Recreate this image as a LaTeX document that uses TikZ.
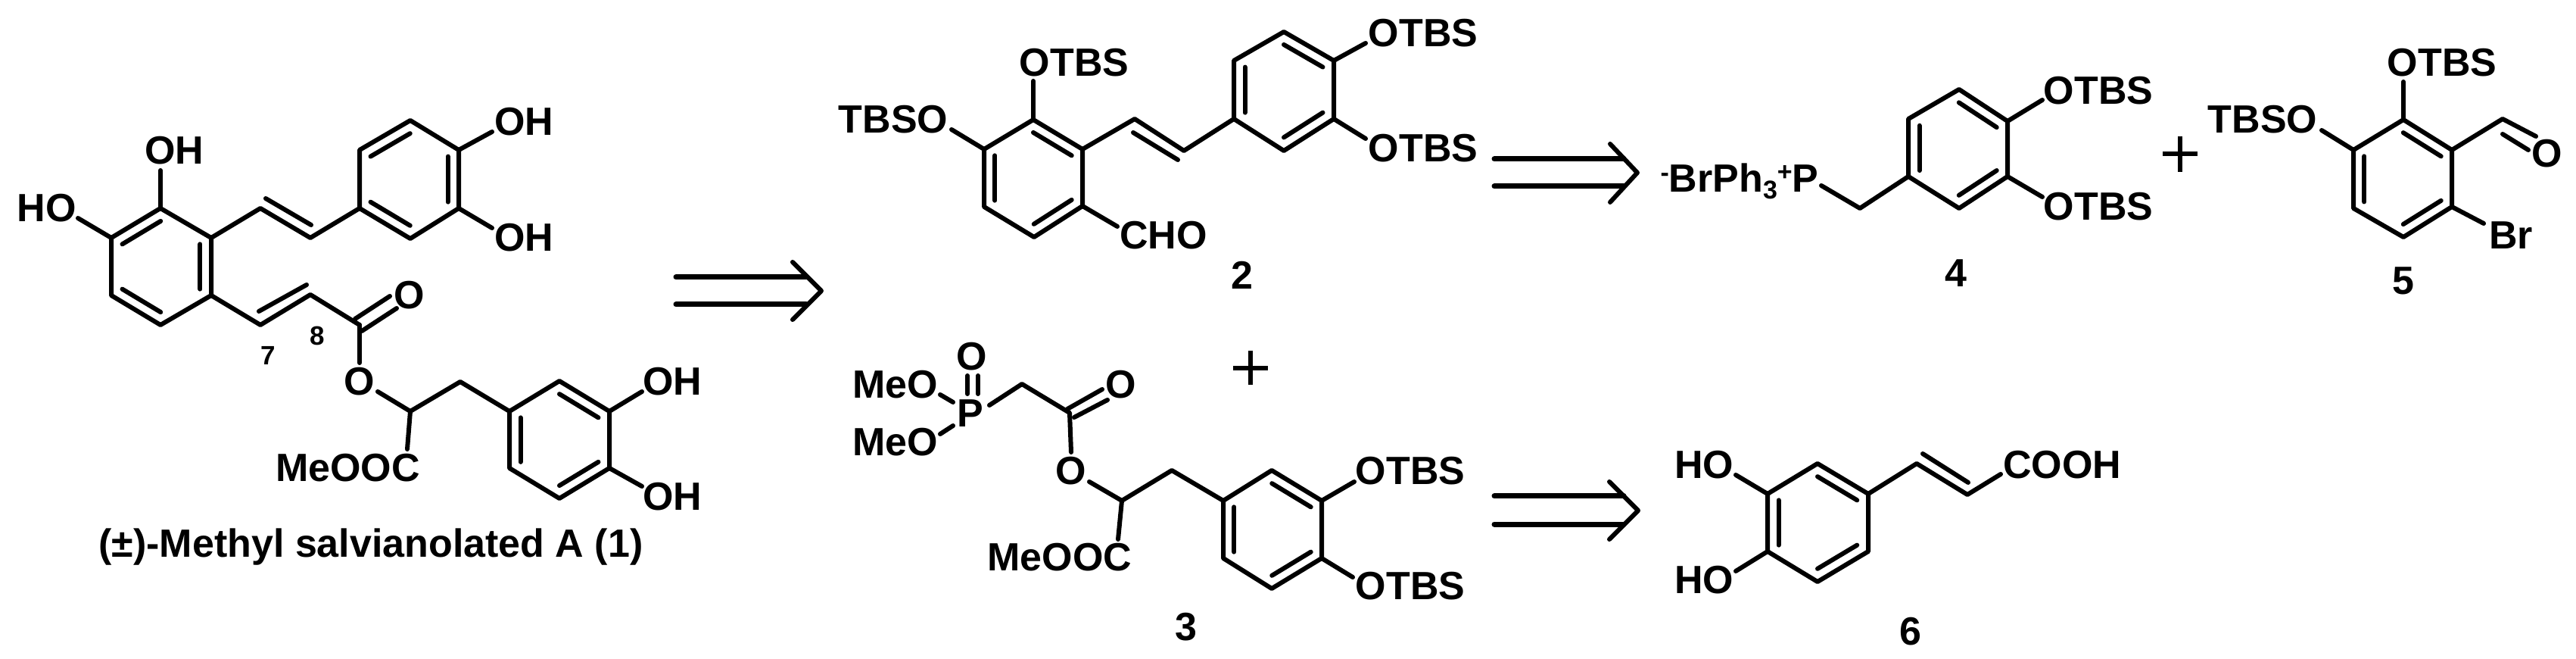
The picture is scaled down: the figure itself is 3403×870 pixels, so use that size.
\documentclass[tikz,border=0pt]{standalone}
\usepackage{fontspec}
\setmainfont{Liberation Sans}[BoldFont={Liberation Sans Bold}]
\usetikzlibrary{calc}
\newcommand\atom[3]{\coordinate (#1) at (#2,#3);}
\newcommand\bnd[1]{\draw[bond] #1;}
\newcommand\rd[3]{\draw[bond] ($(#1)!0.22!(#3)$) -- ($(#2)!0.22!(#3)$);}
\tikzset{
 bond/.style={line width=3pt,line cap=round,line join=round,black},
 thinbond/.style={line width=2.6pt,line cap=butt,black},
 arrowline/.style={line width=3.5pt,line cap=round,black},
 chem/.style={font=\fontsize{26}{26}\selectfont\bfseries,inner sep=0pt,text height=18.6pt,text depth=0pt,black},
 num/.style={font=\fontsize{17.5}{18}\selectfont\bfseries,inner sep=0pt,text height=12.5pt,text depth=0pt,black},
}
\begin{document}
\begin{tikzpicture}[x=0.5pt,y=-0.5pt]
\useasboundingbox (0,0) rectangle (3403,870);
\fill[white] (0,0) rectangle (3403,870);

% ---------- compound 1 ----------
\atom{A1}{212}{275}\atom{A2}{147}{314}\atom{A3}{147}{390}\atom{A4}{212}{429}\atom{A5}{279}{390}\atom{A6}{279}{314}\atom{Ac}{213}{352}
\bnd{(A1)--(A2)--(A3)--(A4)--(A5)--(A6)--cycle}
\rd{A1}{A2}{Ac}\rd{A3}{A4}{Ac}\rd{A5}{A6}{Ac}
\node[chem] (oh1) at (230,198) {OH};
\node[chem] (ho1) at (62,274) {HO};
\atom{Ao1}{212}{225}\atom{Ao2}{103}{288}
\bnd{(A1)--(Ao1)}\bnd{(A2)--(Ao2)}
\atom{V1}{344}{275}\atom{V2}{410}{314}
\atom{B1}{475}{275}\atom{B2}{475}{198}\atom{B3}{542}{159}\atom{B4}{606}{198}\atom{B5}{606}{275}\atom{B6}{542}{315}\atom{Bc}{541}{237}
\bnd{(B1)--(B2)--(B3)--(B4)--(B5)--(B6)--cycle}
\bnd{(A6)--(V1)--(V2)--(B1)}
\atom{Vi1}{351}{262}\atom{Vi2}{411}{297}
\bnd{(Vi1)--(Vi2)}
\rd{B2}{B3}{Bc}\rd{B4}{B5}{Bc}\rd{B6}{B1}{Bc}
\atom{Bo1}{650}{174}\atom{Bo2}{650}{301}
\bnd{(B4)--(Bo1)}\bnd{(B5)--(Bo2)}
\node[chem] (oh2) at (692,160) {OH};
\node[chem] (oh3) at (692,313) {OH};
\atom{E1}{344}{429}\atom{E2}{410}{389}\atom{E3}{475}{429}
\bnd{(A5)--(E1)--(E2)--(E3)}
\atom{Ei1}{342}{411}\atom{Ei2}{405}{376}
\bnd{(Ei1)--(Ei2)}
\atom{Eo1}{469}{421}\atom{Eo2}{515}{391}\atom{Eo3}{478}{437}\atom{Eo4}{524}{407}
\bnd{(Eo1)--(Eo2)}\bnd{(Eo3)--(Eo4)}
\node[chem] (o1) at (541,389) {O};
\atom{Es}{475}{479}
\bnd{(E3)--(Es)}
\node[chem] (o2) at (475,503) {O};
\atom{F0}{499}{517}\atom{F1}{542}{543}\atom{F2}{608}{504}\atom{F3}{538}{593}
\atom{C1}{673}{543}\atom{C2}{739}{503}\atom{C3}{805}{543}\atom{C4}{805}{618}\atom{C5}{739}{658}\atom{C6}{673}{618}\atom{Cc}{739}{581}
\bnd{(F0)--(F1)--(F2)--(C1)}\bnd{(F1)--(F3)}
\node[chem] (me1) at (459.5,617) {MeOOC};
\bnd{(C1)--(C2)--(C3)--(C4)--(C5)--(C6)--cycle}
\rd{C2}{C3}{Cc}\rd{C4}{C5}{Cc}\rd{C6}{C1}{Cc}
\atom{Co1}{848}{517}\atom{Co2}{848}{642}
\bnd{(C3)--(Co1)}\bnd{(C4)--(Co2)}
\node[chem] (oh4) at (888,503) {OH};
\node[chem] (oh5) at (888,655) {OH};
\node[num] (n8) at (419,443) {8};
\node[num] (n7) at (354,469) {7};
\node[chem] (title) at (490,717) {(±)-Methyl salvianolated A (1)};

% ---------- arrows ----------
\atom{R1a}{893}{366}\atom{R1b}{1065}{366}\atom{R1c}{893}{402}\atom{R1d}{1065}{402}\atom{R1u}{1047}{346}\atom{R1t}{1085}{384}\atom{R1l}{1047}{422}
\draw[arrowline] (R1a)--(R1b);\draw[arrowline] (R1c)--(R1d);\bnd{(R1u)--(R1t)--(R1l)}
\atom{R2a}{1974}{210}\atom{R2b}{2145}{210}\atom{R2c}{1974}{246}\atom{R2d}{2145}{246}\atom{R2u}{2127}{190}\atom{R2t}{2163}{228}\atom{R2l}{2127}{267}
\draw[arrowline] (R2a)--(R2b);\draw[arrowline] (R2c)--(R2d);\bnd{(R2u)--(R2t)--(R2l)}
\atom{R3a}{1974}{655}\atom{R3b}{2145}{655}\atom{R3c}{1974}{692}\atom{R3d}{2145}{692}\atom{R3u}{2126}{636}\atom{R3t}{2164}{674}\atom{R3l}{2126}{712}
\draw[arrowline] (R3a)--(R3b);\draw[arrowline] (R3c)--(R3d);\bnd{(R3u)--(R3t)--(R3l)}

% ---------- compound 2 ----------
\atom{G1}{1365}{158}\atom{G2}{1300}{197}\atom{G3}{1300}{273}\atom{G4}{1366}{313}\atom{G5}{1430}{272}\atom{G6}{1430}{197}\atom{Gc}{1365}{235}
\bnd{(G1)--(G2)--(G3)--(G4)--(G5)--(G6)--cycle}
\rd{G1}{G6}{Gc}\rd{G2}{G3}{Gc}\rd{G4}{G5}{Gc}
\atom{Go1}{1365}{107}\atom{Go2}{1257}{171}\atom{Go3}{1476}{299}
\bnd{(G1)--(Go1)}\bnd{(G2)--(Go2)}\bnd{(G5)--(Go3)}
\node[chem] (t1) at (1419,82) {OTBS};
\node[chem] (t2) at (1180,157) {TBSO};
\node[chem] (cho) at (1537,310) {CHO};
\node[chem] (n2) at (1641,363) {2};
\atom{H1}{1499}{157}\atom{H2}{1564}{199}
\atom{J1}{1630}{157}\atom{J2}{1630}{80}\atom{J3}{1696}{42}\atom{J4}{1762}{80}\atom{J5}{1762}{157}\atom{J6}{1696}{199}\atom{Jc}{1696}{119}
\bnd{(G6)--(H1)--(H2)--(J1)}
\atom{Hi1}{1497}{175}\atom{Hi2}{1556}{211}
\bnd{(Hi1)--(Hi2)}
\bnd{(J1)--(J2)--(J3)--(J4)--(J5)--(J6)--cycle}
\rd{J1}{J2}{Jc}\rd{J3}{J4}{Jc}\rd{J5}{J6}{Jc}
\atom{Jo1}{1804}{57}\atom{Jo2}{1804}{183}
\bnd{(J4)--(Jo1)}\bnd{(J5)--(Jo2)}
\node[chem] (t3) at (1880,43) {OTBS};
\node[chem] (t4) at (1880,195) {OTBS};

% ---------- compound 3 ----------
\node[chem] (p1) at (1282,545) {P};
\node[chem] (mo1) at (1183,507) {MeO};
\node[chem] (mo2) at (1183,583) {MeO};
\node[chem] (o3) at (1284,470) {O};
\atom{Pa}{1278}{496}\atom{Pb}{1278}{520}\atom{Pc}{1292}{496}\atom{Pd}{1292}{520}
\draw[bond] (Pa)--(Pb);\draw[bond] (Pc)--(Pd);
\atom{Pe}{1242}{521}\atom{Pf}{1259}{531}\atom{Pg}{1242}{573}\atom{Ph}{1259}{562}
\bnd{(Pe)--(Pf)}\bnd{(Pg)--(Ph)}
\atom{K0}{1307}{535}\atom{K1}{1350}{507}\atom{K2}{1413}{545}\atom{K3}{1415}{597}
\bnd{(K0)--(K1)--(K2)--(K3)}
\atom{Ko1}{1410}{540}\atom{Ko2}{1456}{514}\atom{Ko3}{1419}{551}\atom{Ko4}{1463}{528}
\bnd{(Ko1)--(Ko2)}\bnd{(Ko3)--(Ko4)}
\node[chem] (o4) at (1481,507) {O};
\node[chem] (o5) at (1415,621) {O};
\atom{L0}{1439}{636}\atom{L1}{1482}{661}\atom{L2}{1548}{621}\atom{L3}{1477}{712}
\atom{M1}{1616}{661}\atom{M2}{1680}{621}\atom{M3}{1746}{661}\atom{M4}{1746}{737}\atom{M5}{1680}{777}\atom{M6}{1616}{737}\atom{Mc}{1681}{699}
\bnd{(L0)--(L1)--(L2)--(M1)}\bnd{(L1)--(L3)}
\node[chem] (me2) at (1400,735) {MeOOC};
\bnd{(M1)--(M2)--(M3)--(M4)--(M5)--(M6)--cycle}
\rd{M2}{M3}{Mc}\rd{M4}{M5}{Mc}\rd{M6}{M1}{Mc}
\atom{Mo1}{1789}{636}\atom{Mo2}{1787}{762}
\bnd{(M3)--(Mo1)}\bnd{(M4)--(Mo2)}
\node[chem] (t5) at (1863,621) {OTBS};
\node[chem] (t6) at (1863,773) {OTBS};
\node[chem] (n3) at (1567,827) {3};
\atom{Qa}{1629}{486}\atom{Qb}{1675}{486}\atom{Qc}{1652}{463}\atom{Qd}{1652}{508}
\draw[thinbond] (Qa)--(Qb);\draw[thinbond] (Qc)--(Qd);

% ---------- compound 4 ----------
\node[chem] (br4) at (2298,235) {\raisebox{7pt}{\fontsize{17}{17}\selectfont -}BrPh\raisebox{-4.5pt}{\fontsize{17}{17}\selectfont 3}\raisebox{7.5pt}{\fontsize{17}{17}\selectfont +}P};
\atom{S0}{2406}{245}\atom{S1}{2457}{275}
\atom{U1}{2521}{233}\atom{U2}{2521}{157}\atom{U3}{2588}{118}\atom{U4}{2652}{160}\atom{U5}{2652}{233}\atom{U6}{2588}{275}\atom{Uc}{2587}{197}
\bnd{(S0)--(S1)--(U1)}
\bnd{(U1)--(U2)--(U3)--(U4)--(U5)--(U6)--cycle}
\rd{U1}{U2}{Uc}\rd{U3}{U4}{Uc}\rd{U5}{U6}{Uc}
\atom{Uo1}{2698}{132}\atom{Uo2}{2698}{260}
\bnd{(U4)--(Uo1)}\bnd{(U5)--(Uo2)}
\node[chem] (t7) at (2772,119) {OTBS};
\node[chem] (t8) at (2772,272) {OTBS};
\node[chem] (n4) at (2584,360) {4};
\atom{Wa}{2857}{203}\atom{Wb}{2903}{203}\atom{Wc}{2880}{180}\atom{Wd}{2880}{227}
\draw[thinbond] (Wa)--(Wb);\draw[thinbond] (Wc)--(Wd);

% ---------- compound 5 ----------
\atom{X1}{3175}{158}\atom{X2}{3109}{198}\atom{X3}{3109}{275}\atom{X4}{3175}{313}\atom{X5}{3239}{273}\atom{X6}{3239}{198}\atom{Xc}{3174}{236}
\bnd{(X1)--(X2)--(X3)--(X4)--(X5)--(X6)--cycle}
\rd{X1}{X6}{Xc}\rd{X2}{X3}{Xc}\rd{X4}{X5}{Xc}
\atom{Xo1}{3175}{108}\atom{Xo2}{3067}{172}\atom{Xo3}{3281}{295}
\bnd{(X1)--(Xo1)}\bnd{(X2)--(Xo2)}\bnd{(X5)--(Xo3)}
\node[chem] (t9) at (3226,82) {OTBS};
\node[chem] (t10) at (2989,157) {TBSO};
\node[chem] (br5) at (3317,310) {Br};
\atom{Y1}{3306}{157}\atom{Y2}{3350}{180}\atom{Y3}{3306}{177}\atom{Y4}{3340}{198}
\bnd{(X6)--(Y1)--(Y2)}\bnd{(Y3)--(Y4)}
\node[chem] (o6) at (3365,202) {O};
\node[chem] (n5) at (3175,370) {5};

% ---------- compound 6 ----------
\atom{Z1}{2335}{652}\atom{Z2}{2401}{612}\atom{Z3}{2468}{652}\atom{Z4}{2468}{728}\atom{Z5}{2401}{768}\atom{Z6}{2335}{728}\atom{Zc}{2401}{690}
\bnd{(Z1)--(Z2)--(Z3)--(Z4)--(Z5)--(Z6)--cycle}
\rd{Z2}{Z3}{Zc}\rd{Z4}{Z5}{Zc}\rd{Z6}{Z1}{Zc}
\atom{Zo1}{2293}{627}\atom{Zo2}{2293}{754}
\bnd{(Z1)--(Zo1)}\bnd{(Z6)--(Zo2)}
\node[chem] (ho6) at (2251,613) {HO};
\node[chem] (ho7) at (2251,765) {HO};
\atom{T1}{2532}{612}\atom{T2}{2599}{653}\atom{T3}{2643}{626}
\bnd{(Z3)--(T1)--(T2)--(T3)}
\atom{Ti1}{2540}{599}\atom{Ti2}{2600}{637}
\bnd{(Ti1)--(Ti2)}
\node[chem] (cooh) at (2724,613) {COOH};
\node[chem] (n6) at (2524,833) {6};
\end{tikzpicture}
\end{document}
